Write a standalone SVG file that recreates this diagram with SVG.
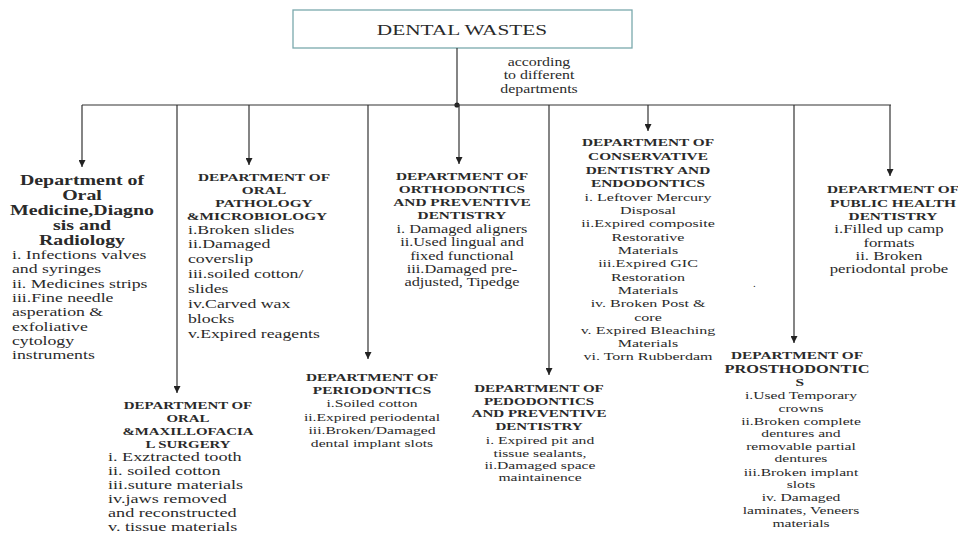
<svg xmlns="http://www.w3.org/2000/svg" width="958" height="535" viewBox="0 0 958 535">
<style>
text{font-family:"Liberation Serif","Times New Roman",serif;fill:#2a2a2a}
.h{font-weight:bold;text-anchor:middle}
.m{text-anchor:middle}
.ln{stroke:#333;stroke-width:1.2;fill:none}
</style>
<defs>
<marker id="ah" viewBox="0 0 8 8" refX="8" refY="4" markerWidth="7" markerHeight="7" orient="auto" markerUnits="userSpaceOnUse">
<path d="M0,0 L8,4 L0,8 z" fill="#222"/>
</marker>
</defs>
<rect width="958" height="535" fill="#fff"/>

<g id="root">
<rect x="293" y="10" width="339" height="38" fill="#fff" stroke="#7aa9ad" stroke-width="1.3"/>
<g transform="translate(462 0) scale(1.42 1)"><text class="m" x="0" y="35" font-size="15">DENTAL WASTES</text></g>
</g>

<g id="connectors">
<line class="ln" x1="457" y1="48" x2="457" y2="105"/>
<circle cx="457" cy="105" r="2.6" fill="#222"/>
<line class="ln" x1="82" y1="105" x2="891" y2="105"/>
<line class="ln" x1="82" y1="105" x2="82" y2="167" marker-end="url(#ah)"/>
<line class="ln" x1="177" y1="105" x2="177" y2="393" marker-end="url(#ah)"/>
<line class="ln" x1="249" y1="105" x2="249" y2="165" marker-end="url(#ah)"/>
<line class="ln" x1="368" y1="105" x2="368" y2="359" marker-end="url(#ah)"/>
<line class="ln" x1="459" y1="105" x2="459" y2="164" marker-end="url(#ah)"/>
<line class="ln" x1="549" y1="105" x2="549" y2="375" marker-end="url(#ah)"/>
<line class="ln" x1="648" y1="105" x2="648" y2="131" marker-end="url(#ah)"/>
<line class="ln" x1="794" y1="105" x2="794" y2="343" marker-end="url(#ah)"/>
<line class="ln" x1="890" y1="105" x2="890" y2="176" marker-end="url(#ah)"/>
<g transform="translate(539 0) scale(1.38 1)" font-size="11.5">
<text class="m" x="0" y="66">according</text>
<text class="m" x="0" y="79.5">to different</text>
<text class="m" x="0" y="93">departments</text>
</g>
</g>

<g id="oral-medicine">
<g transform="translate(82 0) scale(1.42 1)" font-size="14">
<text class="h" x="0" y="185">Department of</text>
<text class="h" x="0" y="200">Oral</text>
<text class="h" x="0" y="215">Medicine,Diagno</text>
<text class="h" x="0" y="230">sis and</text>
<text class="h" x="0" y="245">Radiology</text>
</g>
<g transform="translate(12 0) scale(1.42 1)" font-size="12.5">
<text x="0" y="259">i. Infections valves</text>
<text x="0" y="273.5">and syringes</text>
<text x="0" y="288">ii. Medicines strips</text>
<text x="0" y="302">iii.Fine needle</text>
<text x="0" y="316.5">asperation &amp;</text>
<text x="0" y="331">exfoliative</text>
<text x="0" y="345">cytology</text>
<text x="0" y="359.5">instruments</text>
</g>
</g>

<g id="oral-pathology">
<g transform="translate(264 0) scale(1.42 1)" font-size="10.8">
<text class="h" x="0" y="181">DEPARTMENT OF</text>
<text class="h" x="0" y="194">ORAL</text>
<text class="h" x="0" y="207">PATHOLOGY</text>
<text class="h" x="-5" y="220">&amp;MICROBIOLOGY</text>
</g>
<g transform="translate(188 0) scale(1.42 1)" font-size="12.5">
<text x="0" y="234.5">i.Broken slides</text>
<text x="0" y="248.5">ii.Damaged</text>
<text x="0" y="263.5">coverslip</text>
<text x="0" y="278.5">iii.soiled cotton/</text>
<text x="0" y="293.5">slides</text>
<text x="0" y="308.5">iv.Carved wax</text>
<text x="0" y="323.5">blocks</text>
<text x="0" y="338">v.Expired reagents</text>
</g>
</g>

<g id="orthodontics">
<g transform="translate(462 0) scale(1.42 1)" font-size="10.8">
<text class="h" x="0" y="180">DEPARTMENT OF</text>
<text class="h" x="0" y="193">ORTHODONTICS</text>
<text class="h" x="0" y="206">AND PREVENTIVE</text>
<text class="h" x="0" y="219">DENTISTRY</text>
</g>
<g transform="translate(462 0) scale(1.42 1)" font-size="11.5">
<text class="m" x="0" y="233">i. Damaged aligners</text>
<text class="m" x="0" y="246.5">ii.Used lingual and</text>
<text class="m" x="0" y="260">fixed functional</text>
<text class="m" x="0" y="273">iii.Damaged pre-</text>
<text class="m" x="0" y="286">adjusted, Tipedge</text>
</g>
</g>

<g id="conservative">
<g transform="translate(648 0) scale(1.42 1)" font-size="10.8">
<text class="h" x="0" y="146">DEPARTMENT OF</text>
<text class="h" x="0" y="160">CONSERVATIVE</text>
<text class="h" x="0" y="174">DENTISTRY AND</text>
<text class="h" x="0" y="187">ENDODONTICS</text>
</g>
<g transform="translate(648 0) scale(1.42 1)" font-size="11.3">
<text class="m" x="0" y="201">i. Leftover Mercury</text>
<text class="m" x="0" y="214">Disposal</text>
<text class="m" x="0" y="227">ii.Expired composite</text>
<text class="m" x="0" y="241">Restorative</text>
<text class="m" x="0" y="254">Materials</text>
<text class="m" x="0" y="267">iii.Expired GIC</text>
<text class="m" x="0" y="281">Restoration</text>
<text class="m" x="0" y="294">Materials</text>
<text class="m" x="0" y="307">iv. Broken Post &amp;</text>
<text class="m" x="0" y="321">core</text>
<text class="m" x="0" y="334">v. Expired Bleaching</text>
<text class="m" x="0" y="347">Materials</text>
<text class="m" x="0" y="360">vi. Torn Rubberdam</text>
</g>
<text x="753" y="287" font-size="11">.</text>
</g>

<g id="public-health">
<g transform="translate(893 0) scale(1.42 1)" font-size="10.8">
<text class="h" x="0" y="193">DEPARTMENT OF</text>
<text class="h" x="0" y="207">PUBLIC HEALTH</text>
<text class="h" x="0" y="220">DENTISTRY</text>
</g>
<g transform="translate(889 0) scale(1.42 1)" font-size="11.8">
<text class="m" x="0" y="233">i.Filled up camp</text>
<text class="m" x="0" y="247">formats</text>
<text class="m" x="0" y="260">ii. Broken</text>
<text class="m" x="0" y="273">periodontal probe</text>
</g>
</g>

<g id="maxillofacial">
<g transform="translate(188 0) scale(1.42 1)" font-size="10.5">
<text class="h" x="0" y="409">DEPARTMENT OF</text>
<text class="h" x="0" y="422">ORAL</text>
<text class="h" x="0" y="435">&amp;MAXILLOFACIA</text>
<text class="h" x="0" y="448">L SURGERY</text>
</g>
<g transform="translate(108 0) scale(1.42 1)" font-size="12.8">
<text x="0" y="461.5">i. Exztracted tooth</text>
<text x="0" y="475.5">ii. soiled cotton</text>
<text x="0" y="489.5">iii.suture materials</text>
<text x="0" y="503.5">iv.jaws removed</text>
<text x="0" y="517.5">and reconstructed</text>
<text x="0" y="531.5">v. tissue materials</text>
</g>
</g>

<g id="periodontics">
<g transform="translate(372 0) scale(1.42 1)" font-size="10.8">
<text class="h" x="0" y="381">DEPARTMENT OF</text>
<text class="h" x="0" y="394">PERIODONTICS</text>
</g>
<g transform="translate(372 0) scale(1.42 1)" font-size="11">
<text class="m" x="0" y="407">i.Soiled cotton</text>
<text class="m" x="0" y="421">ii.Expired periodental</text>
<text class="m" x="0" y="434">iii.Broken/Damaged</text>
<text class="m" x="0" y="447">dental implant slots</text>
</g>
</g>

<g id="pedodontics">
<g transform="translate(539 0) scale(1.42 1)" font-size="10.6">
<text class="h" x="0" y="392">DEPARTMENT OF</text>
<text class="h" x="0" y="405">PEDODONTICS</text>
<text class="h" x="0" y="417">AND PREVENTIVE</text>
<text class="h" x="0" y="430">DENTISTRY</text>
</g>
<g transform="translate(540 0) scale(1.42 1)" font-size="11">
<text class="m" x="0" y="444">i. Expired pit and</text>
<text class="m" x="0" y="457">tissue sealants,</text>
<text class="m" x="0" y="469">ii.Damaged space</text>
<text class="m" x="0" y="481">maintainence</text>
</g>
</g>

<g id="prosthodontics">
<g transform="translate(797 0) scale(1.42 1)" font-size="10.8">
<text class="h" x="0" y="359">DEPARTMENT OF</text>
<text class="h" x="0" y="373" font-size="11.5">PROSTHODONTIC</text>
<text class="h" x="2" y="386">S</text>
</g>
<g transform="translate(801 0) scale(1.42 1)" font-size="11">
<text class="m" x="0" y="399">i.Used Temporary</text>
<text class="m" x="0" y="412">crowns</text>
<text class="m" x="0" y="425">ii.Broken complete</text>
<text class="m" x="0" y="437">dentures and</text>
<text class="m" x="0" y="450">removable partial</text>
<text class="m" x="0" y="462">dentures</text>
<text class="m" x="0" y="476">iii.Broken implant</text>
<text class="m" x="0" y="488">slots</text>
<text class="m" x="0" y="501">iv. Damaged</text>
<text class="m" x="0" y="514">laminates, Veneers</text>
<text class="m" x="0" y="527">materials</text>
</g>
</g>
</svg>
